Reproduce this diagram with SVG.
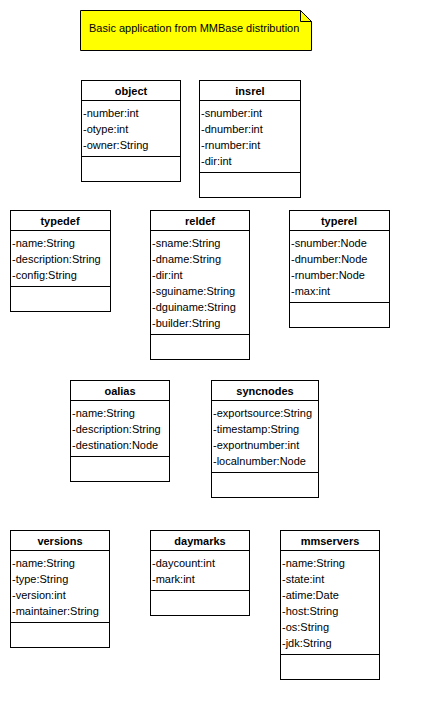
<svg xmlns="http://www.w3.org/2000/svg" width="429" height="712" viewBox="0 0 429 712">
<style>
.box{fill:#fff;stroke:#000;stroke-width:1}
.sep{stroke:#000;stroke-width:1}
.t{font-family:"Liberation Sans",Arial,sans-serif;font-size:11px;font-weight:bold;text-anchor:middle;fill:#000}
.a{font-family:"Liberation Sans",Arial,sans-serif;font-size:11px;fill:#000}
.note{fill:#ffff00;stroke:#000;stroke-width:1}
</style>
<rect width="429" height="712" fill="#fff"/>
<g id="note">
<path class="note" d="M80.5,10.5 H300.5 L311.5,21.5 V50.5 H80.5 Z"/>
<path class="note" d="M300.5,10.5 V21.5 H311.5 Z"/>
<text class="a" x="89" y="32">Basic application from MMBase distribution</text>
</g>
<g id="object">
<rect class="box" x="81.5" y="80.5" width="99" height="101"/>
<line class="sep" x1="81.5" y1="100.5" x2="180.5" y2="100.5"/>
<line class="sep" x1="81.5" y1="156.5" x2="180.5" y2="156.5"/>
<text class="t" x="131" y="95">object</text>
<text class="a" x="83" y="117">-number:int</text>
<text class="a" x="83" y="133">-otype:int</text>
<text class="a" x="83" y="149">-owner:String</text>
</g>
<g id="insrel">
<rect class="box" x="199.5" y="80.5" width="101" height="117"/>
<line class="sep" x1="199.5" y1="100.5" x2="300.5" y2="100.5"/>
<line class="sep" x1="199.5" y1="172.5" x2="300.5" y2="172.5"/>
<text class="t" x="250" y="95">insrel</text>
<text class="a" x="201" y="117">-snumber:int</text>
<text class="a" x="201" y="133">-dnumber:int</text>
<text class="a" x="201" y="149">-rnumber:int</text>
<text class="a" x="201" y="165">-dir:int</text>
</g>
<g id="typedef">
<rect class="box" x="10.5" y="210.5" width="100" height="101"/>
<line class="sep" x1="10.5" y1="230.5" x2="110.5" y2="230.5"/>
<line class="sep" x1="10.5" y1="286.5" x2="110.5" y2="286.5"/>
<text class="t" x="60" y="225">typedef</text>
<text class="a" x="12" y="247">-name:String</text>
<text class="a" x="12" y="263">-description:String</text>
<text class="a" x="12" y="279">-config:String</text>
</g>
<g id="reldef">
<rect class="box" x="150.5" y="210.5" width="99" height="149"/>
<line class="sep" x1="150.5" y1="230.5" x2="249.5" y2="230.5"/>
<line class="sep" x1="150.5" y1="334.5" x2="249.5" y2="334.5"/>
<text class="t" x="200" y="225">reldef</text>
<text class="a" x="152" y="247">-sname:String</text>
<text class="a" x="152" y="263">-dname:String</text>
<text class="a" x="152" y="279">-dir:int</text>
<text class="a" x="152" y="295">-sguiname:String</text>
<text class="a" x="152" y="311">-dguiname:String</text>
<text class="a" x="152" y="327">-builder:String</text>
</g>
<g id="typerel">
<rect class="box" x="289.5" y="210.5" width="100" height="117"/>
<line class="sep" x1="289.5" y1="230.5" x2="389.5" y2="230.5"/>
<line class="sep" x1="289.5" y1="302.5" x2="389.5" y2="302.5"/>
<text class="t" x="339" y="225">typerel</text>
<text class="a" x="291" y="247">-snumber:Node</text>
<text class="a" x="291" y="263">-dnumber:Node</text>
<text class="a" x="291" y="279">-rnumber:Node</text>
<text class="a" x="291" y="295">-max:int</text>
</g>
<g id="oalias">
<rect class="box" x="70.5" y="380.5" width="99" height="101"/>
<line class="sep" x1="70.5" y1="400.5" x2="169.5" y2="400.5"/>
<line class="sep" x1="70.5" y1="456.5" x2="169.5" y2="456.5"/>
<text class="t" x="120" y="395">oalias</text>
<text class="a" x="72" y="417">-name:String</text>
<text class="a" x="72" y="433">-description:String</text>
<text class="a" x="72" y="449">-destination:Node</text>
</g>
<g id="syncnodes">
<rect class="box" x="211.5" y="380.5" width="107" height="117"/>
<line class="sep" x1="211.5" y1="400.5" x2="318.5" y2="400.5"/>
<line class="sep" x1="211.5" y1="472.5" x2="318.5" y2="472.5"/>
<text class="t" x="265" y="395">syncnodes</text>
<text class="a" x="213" y="417">-exportsource:String</text>
<text class="a" x="213" y="433">-timestamp:String</text>
<text class="a" x="213" y="449">-exportnumber:int</text>
<text class="a" x="213" y="465">-localnumber:Node</text>
</g>
<g id="versions">
<rect class="box" x="10.5" y="530.5" width="99" height="117"/>
<line class="sep" x1="10.5" y1="550.5" x2="109.5" y2="550.5"/>
<line class="sep" x1="10.5" y1="622.5" x2="109.5" y2="622.5"/>
<text class="t" x="60" y="545">versions</text>
<text class="a" x="12" y="567">-name:String</text>
<text class="a" x="12" y="583">-type:String</text>
<text class="a" x="12" y="599">-version:int</text>
<text class="a" x="12" y="615">-maintainer:String</text>
</g>
<g id="daymarks">
<rect class="box" x="150.5" y="530.5" width="99" height="85"/>
<line class="sep" x1="150.5" y1="550.5" x2="249.5" y2="550.5"/>
<line class="sep" x1="150.5" y1="590.5" x2="249.5" y2="590.5"/>
<text class="t" x="200" y="545">daymarks</text>
<text class="a" x="152" y="567">-daycount:int</text>
<text class="a" x="152" y="583">-mark:int</text>
</g>
<g id="mmservers">
<rect class="box" x="280.5" y="530.5" width="99" height="149"/>
<line class="sep" x1="280.5" y1="550.5" x2="379.5" y2="550.5"/>
<line class="sep" x1="280.5" y1="654.5" x2="379.5" y2="654.5"/>
<text class="t" x="330" y="545">mmservers</text>
<text class="a" x="282" y="567">-name:String</text>
<text class="a" x="282" y="583">-state:int</text>
<text class="a" x="282" y="599">-atime:Date</text>
<text class="a" x="282" y="615">-host:String</text>
<text class="a" x="282" y="631">-os:String</text>
<text class="a" x="282" y="647">-jdk:String</text>
</g>
<g id="connectors"></g>
</svg>
